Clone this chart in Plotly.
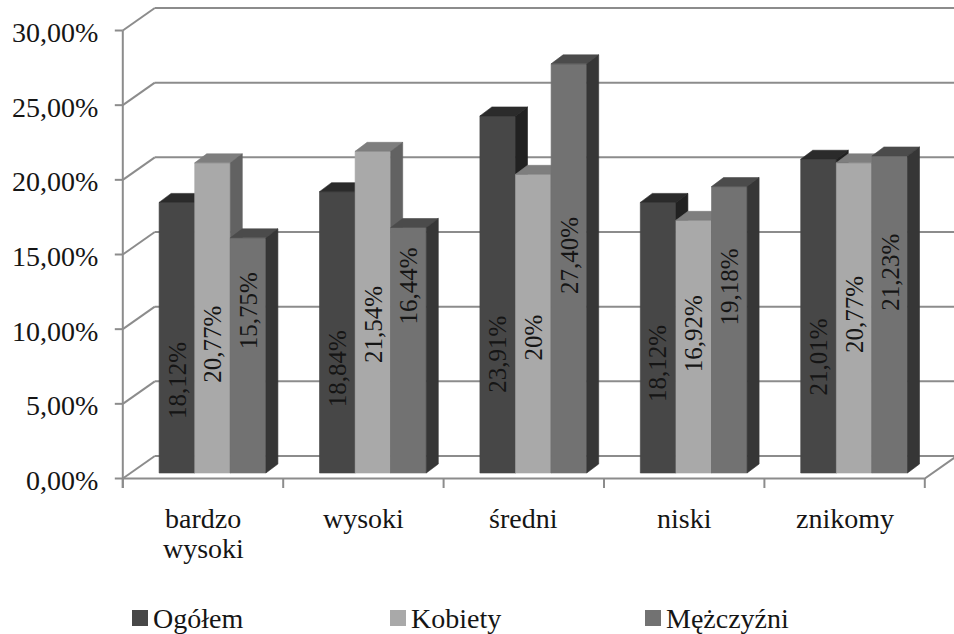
import plotly.graph_objects as go

# ---- data -------------------------------------------------------------
categories = ["bardzo wysoki", "wysoki", "średni", "niski", "znikomy"]
series_names = ["Ogółem", "Kobiety", "Mężczyźni"]
ogolem = [18.12, 18.84, 23.91, 18.12, 21.01]
kobiety = [20.77, 21.54, 20.00, 16.92, 20.77]
mezczyzni = [15.75, 16.44, 27.40, 19.18, 21.23]
y_ticks = [0, 5, 10, 15, 20, 25, 30]
series_values = [ogolem, kobiety, mezczyzni]

# ---- styling / layout constants ------------------------------------------
W, H = 954, 634
FONT = "'Liberation Serif', 'Times New Roman', 'DejaVu Serif', serif"
TEXT_COLOR = "#151515"
GRID_COLOR = "#8c8c8c"

# colours per series: front face, top face, right side face
FACE_COLORS = [
    ("#474747", "#2b2b2b", "#212121"),
    ("#a9a9a9", "#7e7e7e", "#626262"),
    ("#727272", "#4b4b4b", "#363636"),
]

# pixel calibration of the oblique projection
X0_PX = 203.0      # centre of first category on front floor edge
CAT_PX = 160.4     # pixels per category
Y0_PX = 478.5      # front floor edge (0 %)
PCT_PX = 14.933    # pixels per percentage point


def ux(px):
    return px / CAT_PX


def uy(px):
    return px / PCT_PX


def to_x(p):
    return (p - X0_PX) / CAT_PX


def to_y(q):
    return (Y0_PX - q) / PCT_PX


# depth vectors (data units)
FLOOR_DX, FLOOR_DY = ux(32), uy(22.5)     # full floor depth
FRONT_DX, FRONT_DY = ux(9.5), uy(5.5)     # bar front plane offset
BAR_DX, BAR_DY = ux(12), uy(9)            # bar depth
BAR_W = ux(35.6)                          # single bar width

# vertical centre of each in-bar value label, in % above the bar base
label_mid = [
    [6.22, 6.96, 7.97, 7.30, 7.76],
    [8.63, 9.97, 9.10, 9.34, 10.58],
    [10.84, 12.52, 14.59, 12.45, 13.45],
]

n_cat = len(categories)
x_left_edge, x_right_edge = -0.5, n_cat - 0.5
y_max = y_ticks[-1]

fig = go.Figure()

# ---- walls, floor and axes -------------------------------------------------
gx, gy = [], []


def seg(xs, ys):
    gx.extend(xs + [None])
    gy.extend(ys + [None])


for t in y_ticks:
    # back wall gridline
    seg([x_left_edge + FLOOR_DX, x_right_edge + FLOOR_DX + 0.3], [t + FLOOR_DY, t + FLOOR_DY])
    # side wall gridline
    seg([x_left_edge, x_left_edge + FLOOR_DX], [t, t + FLOOR_DY])
    # value axis tick
    seg([x_left_edge - ux(8), x_left_edge], [t, t])

tick_len = uy(9.5)
seg([x_left_edge, x_left_edge], [-tick_len, y_max])
seg([x_left_edge, x_right_edge, x_right_edge + FLOOR_DX], [0, 0, FLOOR_DY])
for k in range(n_cat + 1):
    seg([x_left_edge + k, x_left_edge + k], [0, -tick_len])

fig.add_trace(go.Scatter(
    x=gx, y=gy, mode="lines",
    line=dict(color=GRID_COLOR, width=2),
    hoverinfo="skip", showlegend=False,
))

# ---- 3-D columns -------------------------------------------------------------
for j, (name, vals) in enumerate(zip(series_names, series_values)):
    front_x, front_y, top_x, top_y, side_x, side_y = [], [], [], [], [], []
    for k, v in enumerate(vals):
        xl = k + FRONT_DX + (j - 1.5) * BAR_W
        xr = xl + BAR_W
        b = FRONT_DY
        t = FRONT_DY + v
        front_x += [xl, xr, xr, xl, xl, None]
        front_y += [b, b, t, t, b, None]
        top_x += [xl, xr, xr + BAR_DX, xl + BAR_DX, xl, None]
        top_y += [t, t, t + BAR_DY, t + BAR_DY, t, None]
        side_x += [xr, xr, xr + BAR_DX, xr + BAR_DX, xr, None]
        side_y += [b, t, t + BAR_DY, b + BAR_DY, b, None]
    fcol, tcol, scol = FACE_COLORS[j]
    for xs, ys, col in ((front_x, front_y, fcol), (top_x, top_y, tcol), (side_x, side_y, scol)):
        fig.add_trace(go.Scatter(
            x=xs, y=ys, mode="lines", fill="toself", fillcolor=col,
            line=dict(color=col, width=0.6),
            name=name, hoverinfo="skip", showlegend=False,
        ))

# ---- value labels inside columns ---------------------------------------------
def fmt(v):
    if abs(v - round(v)) < 1e-9:
        return f"{int(round(v))}%"
    return f"{v:.2f}".replace(".", ",") + "%"


annotations = []
for j, vals in enumerate(series_values):
    for k, v in enumerate(vals):
        xc = k + FRONT_DX + (j - 1) * BAR_W
        annotations.append(dict(
            x=xc, y=FRONT_DY + label_mid[j][k], text=fmt(v), textangle=-90,
            showarrow=False, xanchor="center", yanchor="middle",
            font=dict(family=FONT, size=25, color=TEXT_COLOR),
        ))

# ---- value axis labels ---------------------------------------------------------
for t in y_ticks:
    annotations.append(dict(
        x=to_x(100), y=t + uy(-2), text=f"{t:.2f}".replace(".", ",") + "%",
        showarrow=False, xanchor="right", yanchor="middle",
        font=dict(family=FONT, size=28, color=TEXT_COLOR),
    ))

# ---- category labels -------------------------------------------------------------
for k, cat in enumerate(categories):
    for i, line in enumerate(cat.split(" ")):
        annotations.append(dict(
            x=k, y=to_y(518 + 30 * i), text=line,
            showarrow=False, xanchor="center", yanchor="middle",
            font=dict(family=FONT, size=28, color=TEXT_COLOR),
        ))

# ---- legend ------------------------------------------------------------------------
shapes = []
legend_x = [132, 390, 645]
legend_y = 618
for j, name in enumerate(series_names):
    x0 = legend_x[j]
    shapes.append(dict(
        type="rect", xref="paper", yref="paper",
        x0=x0 / W, x1=(x0 + 16) / W,
        y0=1 - (legend_y + 8) / H, y1=1 - (legend_y - 8) / H,
        fillcolor=FACE_COLORS[j][0], line=dict(width=0),
    ))
    annotations.append(dict(
        xref="paper", yref="paper", x=(x0 + 19) / W, y=1 - legend_y / H,
        text=name, showarrow=False, xanchor="left", yanchor="middle",
        font=dict(family=FONT, size=28, color=TEXT_COLOR),
    ))

fig.update_layout(
    width=W, height=H, autosize=False,
    margin=dict(l=0, r=0, t=0, b=0, pad=0),
    paper_bgcolor="white", plot_bgcolor="white",
    font=dict(family=FONT),
    xaxis=dict(range=[to_x(0), to_x(W)], visible=False, fixedrange=True),
    yaxis=dict(range=[to_y(H), to_y(0)], visible=False, fixedrange=True),
    annotations=annotations, shapes=shapes, showlegend=False,
)

fig.write_html("out.html")
